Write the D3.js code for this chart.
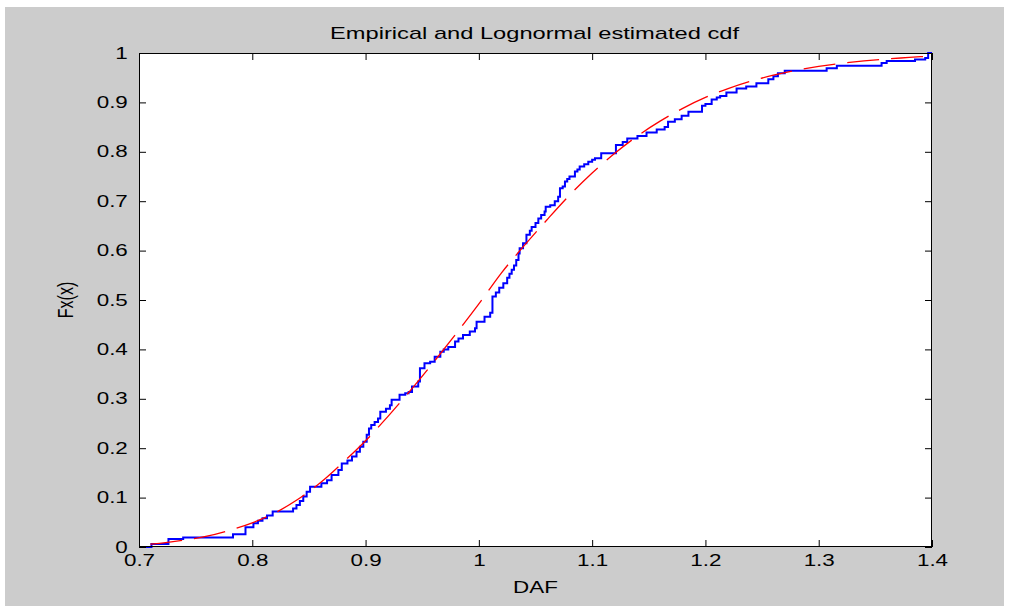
<!DOCTYPE html>
<html>
<head>
<meta charset="utf-8">
<script src="https://cdn.jsdelivr.net/npm/d3@7"></script>
<style>
html,body{margin:0;padding:0;background:#ffffff;}
svg{display:block;}
text{font-family:"Liberation Sans",Arial,Helvetica,sans-serif;fill:#000;}
</style>
</head>
<body>
<svg id="chart" width="1012" height="606"></svg>
<script>
// ---------- data ----------
const titleText = "Empirical and Lognormal estimated cdf";
const xLabelText = "DAF";
const yLabelText = "Fx(x)";

const xTickValues = [0.7, 0.8, 0.9, 1.0, 1.1, 1.2, 1.3, 1.4];
const xTickLabels = ["0.7", "0.8", "0.9", "1", "1.1", "1.2", "1.3", "1.4"];
const yTickValues = [0, 0.1, 0.2, 0.3, 0.4, 0.5, 0.6, 0.7, 0.8, 0.9, 1.0];
const yTickLabels = ["0", "0.1", "0.2", "0.3", "0.4", "0.5", "0.6", "0.7", "0.8", "0.9", "1"];

// Empirical cdf (stairs): value F reached at x
const empiricalX = [0.700, 0.711, 0.726, 0.739, 0.783, 0.794, 0.801, 0.805, 0.809, 0.813, 0.818,
  0.836, 0.839, 0.842, 0.845, 0.848, 0.851, 0.861, 0.866, 0.870, 0.876, 0.879, 0.884, 0.888,
  0.892, 0.895, 0.898, 0.901, 0.903, 0.905, 0.908, 0.911, 0.913, 0.918, 0.9215, 0.923, 0.930,
  0.935, 0.938, 0.941, 0.9465, 0.948, 0.952, 0.957, 0.961, 0.966, 0.969, 0.973, 0.979, 0.982,
  0.986, 0.992, 0.9966, 0.998, 1.005, 1.010, 1.012, 1.015, 1.018, 1.0216, 1.025, 1.027, 1.029,
  1.031, 1.033, 1.035, 1.036, 1.039, 1.042, 1.045, 1.0466, 1.050, 1.0525, 1.055, 1.058, 1.059,
  1.063, 1.067, 1.070, 1.0716, 1.074, 1.076, 1.078, 1.080, 1.0848, 1.087, 1.089, 1.093, 1.0966,
  1.100, 1.1025, 1.108, 1.121, 1.127, 1.131, 1.140, 1.148, 1.157, 1.164, 1.167, 1.173, 1.179,
  1.185, 1.197, 1.200, 1.2055, 1.210, 1.213, 1.2185, 1.2275, 1.236, 1.245, 1.2555, 1.260, 1.264,
  1.270, 1.307, 1.316, 1.3555, 1.360, 1.385, 1.394, 1.3966, 1.400];
const empiricalF = [0.000, 0.006, 0.016, 0.019, 0.026, 0.040, 0.048, 0.053, 0.058, 0.064, 0.072,
  0.078, 0.085, 0.093, 0.102, 0.112, 0.122, 0.129, 0.135, 0.146, 0.156, 0.169, 0.175, 0.183,
  0.193, 0.203, 0.213, 0.227, 0.240, 0.247, 0.253, 0.260, 0.274, 0.280, 0.287, 0.298, 0.308,
  0.311, 0.314, 0.325, 0.335, 0.362, 0.372, 0.375, 0.385, 0.395, 0.400, 0.405, 0.416, 0.422,
  0.429, 0.436, 0.443, 0.456, 0.466, 0.474, 0.507, 0.515, 0.525, 0.534, 0.545, 0.553, 0.561,
  0.570, 0.581, 0.594, 0.605, 0.615, 0.632, 0.640, 0.648, 0.656, 0.665, 0.672, 0.679, 0.689,
  0.692, 0.700, 0.709, 0.726, 0.730, 0.740, 0.745, 0.750, 0.760, 0.764, 0.770, 0.775, 0.780,
  0.784, 0.787, 0.797, 0.814, 0.820, 0.827, 0.832, 0.839, 0.845, 0.850, 0.861, 0.866, 0.873,
  0.881, 0.893, 0.897, 0.906, 0.910, 0.913, 0.920, 0.928, 0.932, 0.939, 0.947, 0.953, 0.959,
  0.964, 0.969, 0.974, 0.980, 0.984, 0.987, 0.990, 1.000, 1.000];

// Lognormal estimated cdf (red dashed)
const lognormalX = [0.71, 0.72, 0.74, 0.76, 0.78, 0.80, 0.82, 0.84, 0.86, 0.88, 0.90, 0.92, 0.94,
  0.96, 0.98, 1.00, 1.02, 1.04, 1.06, 1.08, 1.10, 1.12, 1.14, 1.16, 1.18, 1.20, 1.22, 1.24, 1.26,
  1.28, 1.30, 1.32, 1.34, 1.36, 1.38, 1.40];
const lognormalF = [0.006, 0.008, 0.014, 0.022, 0.034, 0.049, 0.069, 0.096, 0.130, 0.171, 0.215,
  0.265, 0.318, 0.374, 0.432, 0.492, 0.555, 0.610, 0.662, 0.712, 0.757, 0.797, 0.832, 0.862,
  0.888, 0.910, 0.928, 0.943, 0.955, 0.965, 0.973, 0.979, 0.984, 0.988, 0.991, 0.994];

// ---------- layout ----------
const W = 1012, H = 606;
const plot = {left: 139, right: 932, top: 53, bottom: 547};
const stretch = 1.4;   // horizontal stretch of the lettering in the reference

const svg = d3.select("#chart");

// figure background
svg.append("rect").attr("x", 0).attr("y", 0).attr("width", W).attr("height", H).attr("fill", "#ffffff");
svg.append("rect").attr("x", 5).attr("y", 7).attr("width", 999).attr("height", H - 7).attr("fill", "#cccccc");

// axes area
svg.append("rect")
  .attr("x", plot.left).attr("y", plot.top)
  .attr("width", plot.right - plot.left).attr("height", plot.bottom - plot.top)
  .attr("fill", "#ffffff");

const x = d3.scaleLinear().domain([0.7, 1.4]).range([plot.left, plot.right]);
const y = d3.scaleLinear().domain([0, 1]).range([plot.bottom, plot.top]);

svg.append("clipPath").attr("id", "clip")
  .append("rect")
  .attr("x", plot.left).attr("y", plot.top - 1)
  .attr("width", plot.right - plot.left).attr("height", plot.bottom - plot.top + 2);

const g = svg.append("g").attr("clip-path", "url(#clip)");

const empirical = empiricalX.map((v, i) => [v, empiricalF[i]]);
const lognormal = lognormalX.map((v, i) => [v, lognormalF[i]]);

g.append("path")
  .datum(empirical)
  .attr("fill", "none")
  .attr("stroke", "#0000ff")
  .attr("stroke-width", 2)
  .attr("d", d3.line().x(d => x(d[0])).y(d => y(d[1])).curve(d3.curveStepAfter));

g.append("path")
  .datum(lognormal)
  .attr("fill", "none")
  .attr("stroke", "#ff0000")
  .attr("stroke-width", 1.3)
  .attr("stroke-dasharray", "32,12")
  .attr("d", d3.line().x(d => x(d[0])).y(d => y(d[1])).curve(d3.curveMonotoneX));

// ---------- axes ----------
const tickLen = 7;
const fontSize = 16;

const xAxisB = d3.axisBottom(x).tickValues(xTickValues)
  .tickFormat((d, i) => xTickLabels[i]).tickSizeInner(-tickLen).tickSizeOuter(0).tickPadding(8);
const xAxisT = d3.axisTop(x).tickValues(xTickValues)
  .tickFormat("").tickSizeInner(-tickLen).tickSizeOuter(0);
const yAxisL = d3.axisLeft(y).tickValues(yTickValues)
  .tickFormat((d, i) => yTickLabels[i]).tickSizeInner(-tickLen).tickSizeOuter(0).tickPadding(8);
const yAxisR = d3.axisRight(y).tickValues(yTickValues)
  .tickFormat("").tickSizeInner(-tickLen).tickSizeOuter(0);

function styleAxis(sel) {
  sel.select(".domain").remove();
  sel.selectAll(".tick line").attr("stroke", "#000").attr("stroke-width", 1);
  sel.selectAll(".tick text")
    .attr("font-size", fontSize)
    .attr("font-family", "'Liberation Sans', Arial, sans-serif")
    .attr("fill", "#000");
}

const gB = svg.append("g").attr("transform", `translate(0,${plot.bottom})`).call(xAxisB);
styleAxis(gB);
gB.selectAll(".tick text").attr("transform", `scale(${stretch},1)`);

const gT = svg.append("g").attr("transform", `translate(0,${plot.top})`).call(xAxisT);
styleAxis(gT);

const gL = svg.append("g").attr("transform", `translate(${plot.left},0)`).call(yAxisL);
styleAxis(gL);
gL.selectAll(".tick text").attr("transform", `scale(${stretch},1)`);

const gR = svg.append("g").attr("transform", `translate(${plot.right},0)`).call(yAxisR);
styleAxis(gR);

// box
svg.append("rect")
  .attr("x", plot.left + 0.5).attr("y", plot.top + 0.5)
  .attr("width", plot.right - plot.left - 1).attr("height", plot.bottom - plot.top - 1)
  .attr("fill", "none").attr("stroke", "#000").attr("stroke-width", 1);

// ---------- titles ----------
const cx = (plot.left + plot.right) / 2;
svg.append("text")
  .attr("transform", `translate(${cx - 1},39) scale(1.48,1)`)
  .attr("text-anchor", "middle")
  .attr("font-size", fontSize)
  .text(titleText);

svg.append("text")
  .attr("transform", `translate(${cx},593) scale(${stretch},1)`)
  .attr("text-anchor", "middle")
  .attr("font-size", fontSize)
  .text(xLabelText);

svg.append("text")
  .attr("transform", `translate(73,${(plot.top + plot.bottom) / 2}) scale(${stretch},1) rotate(-90)`)
  .attr("text-anchor", "middle")
  .attr("font-size", fontSize)
  .text(yLabelText);
</script>
</body>
</html>
